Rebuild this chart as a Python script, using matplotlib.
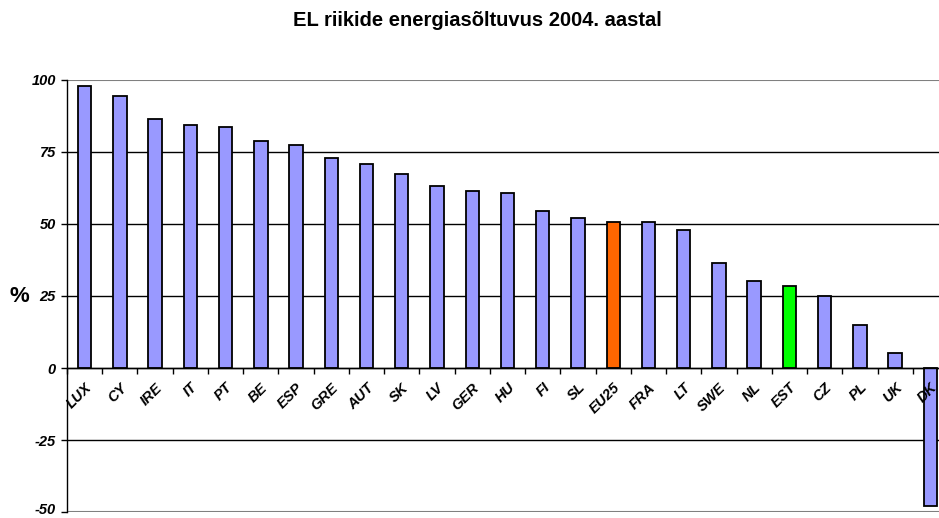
import matplotlib.pyplot as plt
import matplotlib.transforms as mtransforms
import numpy as np

countries = ['LUX', 'CY', 'IRE', 'IT', 'PT', 'BE', 'ESP', 'GRE', 'AUT', 'SK', 'LV', 'GER',
             'HU', 'FI', 'SL', 'EU25', 'FRA', 'LT', 'SWE', 'NL', 'EST', 'CZ', 'PL', 'UK', 'DK']
dependency = [98.0, 94.5, 86.3, 84.4, 83.7, 78.9, 77.5, 72.8, 70.7, 67.5, 63.3, 61.3,
              60.8, 54.6, 52.0, 50.6, 50.6, 47.8, 36.5, 30.3, 28.4, 24.9, 14.8, 5.3, -47.9]
yticks = [-50, -25, 0, 25, 50, 75, 100]

plt.rcParams['font.family'] = ['Liberation Sans', 'DejaVu Sans']

colors = []
for c in countries:
    if c == 'EU25':
        colors.append('#FF6600')
    elif c == 'EST':
        colors.append('#00FF00')
    else:
        colors.append('#9999FF')

fig = plt.figure(figsize=(9.39, 5.18), dpi=100)
ax = fig.add_axes([67 / 939, 6 / 518, 881 / 939, 432 / 518])

x = np.arange(len(countries))
ax.bar(x, dependency, width=0.38, color=colors, edgecolor='black', linewidth=1.3, zorder=2)

ax.set_xlim(-0.5, len(countries) - 0.5)
ax.set_ylim(-50, 100)
ax.set_yticks(yticks)
ax.set_yticklabels([str(v) for v in yticks], fontsize=10.5, fontweight='bold', fontstyle='italic')
ax.tick_params(axis='y', length=4, width=1, direction='out', pad=4)

# keep the lowest label inside the picture
lowest = ax.get_yticklabels()[0]
lowest.set_transform(lowest.get_transform() +
                     mtransforms.ScaledTranslation(0, 3 / 100, fig.dpi_scale_trans))

# gridlines black, outer ones gray
ax.set_axisbelow(True)
ax.yaxis.grid(True, color='black', linewidth=1)
for line, val in zip(ax.get_ygridlines(), yticks):
    if val in (100, -50):
        line.set_color('#808080')
        line.set_linewidth(1.5)

# zero axis carries the category labels, drawn over the bars
ax.spines['bottom'].set_position(('data', 0))
ax.spines['bottom'].set_linewidth(1)
ax.spines['bottom'].set_zorder(3)
ax.spines['left'].set_linewidth(1)
ax.spines['top'].set_visible(False)
ax.spines['right'].set_visible(False)
ax.xaxis.set_zorder(4)

ax.set_xticks(x)
ax.set_xticklabels(countries, rotation=45, ha='right', rotation_mode='anchor',
                   fontsize=10.5, fontweight='bold', fontstyle='italic')
ax.tick_params(axis='x', which='major', length=0, pad=9)
ax.set_xticks(np.arange(len(countries) + 1) - 0.5, minor=True)
ax.tick_params(axis='x', which='minor', length=4, width=1, direction='out')

fig.text(19 / 939, 1 - 297 / 518, '%', fontsize=16, fontweight='bold', ha='center', va='center')
fig.text(477 / 939, 1 - 20 / 518, 'EL riikide energiasõltuvus 2004. aastal',
         fontsize=14.5, fontweight='bold', ha='center', va='center')

fig.savefig('out.png', dpi=100)
